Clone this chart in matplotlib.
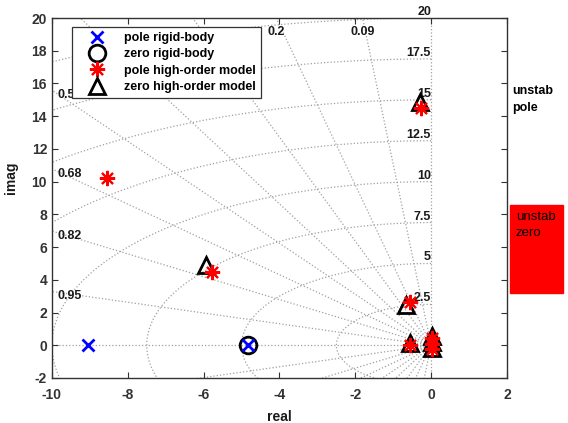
import numpy as np
import matplotlib
matplotlib.use('Agg')
import matplotlib.pyplot as plt
from matplotlib.patches import Rectangle

plt.rcParams['font.family'] = ['Liberation Sans', 'DejaVu Sans']
plt.rcParams['axes.unicode_minus'] = False

# pole / zero data
pole_rb_re = [-9.05, -4.82]
pole_rb_im = [0.0, 0.0]
zero_rb_re = [-4.82]
zero_rb_im = [0.0]
pole_hi_re = [-8.55, -5.78, -0.26, -0.55, -0.55, 0.03, 0.03, 0.03]
pole_hi_im = [10.22, 4.45, 14.5, 2.62, 0.02, 0.45, 0.1, -0.2]
zero_hi_re = [-5.95, -0.3, -0.65, -0.55, 0.03, 0.03, 0.03]
zero_hi_im = [4.9, 14.85, 2.45, 0.15, 0.55, 0.2, -0.15]

# sgrid values (0.3 and 0.42 labels sit under the legend -> not labelled)
zetas = [0.09, 0.2, 0.3, 0.42, 0.54, 0.68, 0.82, 0.95]
zeta_hidden = [0.3, 0.42]
wns = [2.5, 5, 7.5, 10, 12.5, 15, 17.5, 20]
wn_labels = ['2.5', '5', '7.5', '10', '12.5', '15', '17.5', '20']

xlim = (-10, 2)
ylim = (-2, 20)

fig = plt.figure(figsize=(5.68, 4.23), dpi=100)
ax = fig.add_axes([0.0915, 0.1064, 0.801, 0.851])

gcol = '#a0a0a0'
gkw = dict(color=gcol, linestyle=':', linewidth=0.9, zorder=1)

# circles (left half)
th = np.linspace(np.pi / 2, 3 * np.pi / 2, 300)
for wn in wns:
    ax.plot(wn * np.cos(th), wn * np.sin(th), **gkw)

# damping lines
R = 40
for z in zetas:
    s = np.sqrt(1 - z ** 2)
    ax.plot([0, -R * z], [0, R * s], **gkw)
    ax.plot([0, -R * z], [0, -R * s], **gkw)
ax.plot([0, -R], [0, 0], **gkw)
ax.plot([0, 0], [-R, R], **gkw)

# damping labels
lab_kw = dict(fontsize=9, fontweight='bold', color='#1a1a1a', zorder=3)
for z in zetas:
    if z in zeta_hidden:
        continue
    t = np.sqrt(1 - z ** 2) / z
    yl = -xlim[0] * t
    txt = ('%.2f' % z).rstrip('0')
    if yl < ylim[1]:
        ax.text(xlim[0] + 0.15, yl - 0.3, txt, ha='left', va='center', **lab_kw)
    else:
        xc = -ylim[1] / t
        ax.text(xc, ylim[1] - 0.5, txt, ha='center', va='top', **lab_kw)

# frequency labels
for wn, lab in zip(wns, wn_labels):
    ax.text(0, wn, lab, ha='right', va='bottom', clip_on=False, **lab_kw)

# markers
ax.plot(zero_hi_re, zero_hi_im, linestyle='none', marker='^', ms=12,
        mfc='none', mec='black', mew=2, zorder=4, label='zero high-order model')
ax.plot(pole_hi_re, pole_hi_im, linestyle='none', marker=(8, 2, 0), ms=11,
        mec='red', mew=1.5, zorder=5, label='pole high-order model')
ax.plot(zero_rb_re, zero_rb_im, linestyle='none', marker='o', ms=12,
        mfc='none', mec='black', mew=2, zorder=4, label='zero rigid-body')
ax.plot(pole_rb_re, pole_rb_im, linestyle='none', marker='x', ms=9,
        mec='blue', mew=2, zorder=5, label='pole rigid-body')

ax.set_xlim(*xlim)
ax.set_ylim(*ylim)
ax.set_xticks(np.arange(-10, 3, 2))
ax.set_yticks(np.arange(-2, 21, 2))
ax.tick_params(direction='in', top=True, right=True, length=4,
               labelsize=10, colors='#333333', width=0.8)
ax.tick_params(axis='x', pad=7)
for lbl in ax.get_xticklabels() + ax.get_yticklabels():
    lbl.set_fontweight('bold')
for sp in ax.spines.values():
    sp.set_color('#333333')
    sp.set_linewidth(1.0)

ax.set_xlabel('real', fontsize=10, fontweight='bold', color='#1a1a1a')
ax.set_ylabel('imag', fontsize=10, fontweight='bold', color='#1a1a1a')
ax.xaxis.set_label_coords(0.50, -0.09)
ax.yaxis.set_label_coords(-0.075, 0.556)

h, l = ax.get_legend_handles_labels()
order = [3, 2, 1, 0]
leg = ax.legend([h[i] for i in order], [l[i] for i in order],
                loc='upper left', bbox_to_anchor=(0.044, 0.975),
                prop={'weight': 'bold', 'size': 9}, frameon=True, fancybox=False,
                edgecolor='#333333', framealpha=1, borderpad=0.4,
                labelspacing=0.35, handletextpad=0.6, handlelength=3.2,
                borderaxespad=0)
leg.get_frame().set_linewidth(0.9)
leg.set_zorder(10)

# right side annotations
fig.text(512 / 568, 1 - 85 / 423, 'unstab\npole', fontsize=9, fontweight='bold',
         ha='left', va='top', linespacing=1.5)
fig.add_artist(Rectangle((510 / 568, 1 - 293 / 423), 53 / 568, 88 / 423,
                         transform=fig.transFigure, facecolor='red', edgecolor='red'))
fig.text(516 / 568, 1 - 211 / 423, 'unstab\nzero', fontsize=9.5,
         ha='left', va='top', linespacing=1.5)

fig.savefig('out.png', dpi=100)
